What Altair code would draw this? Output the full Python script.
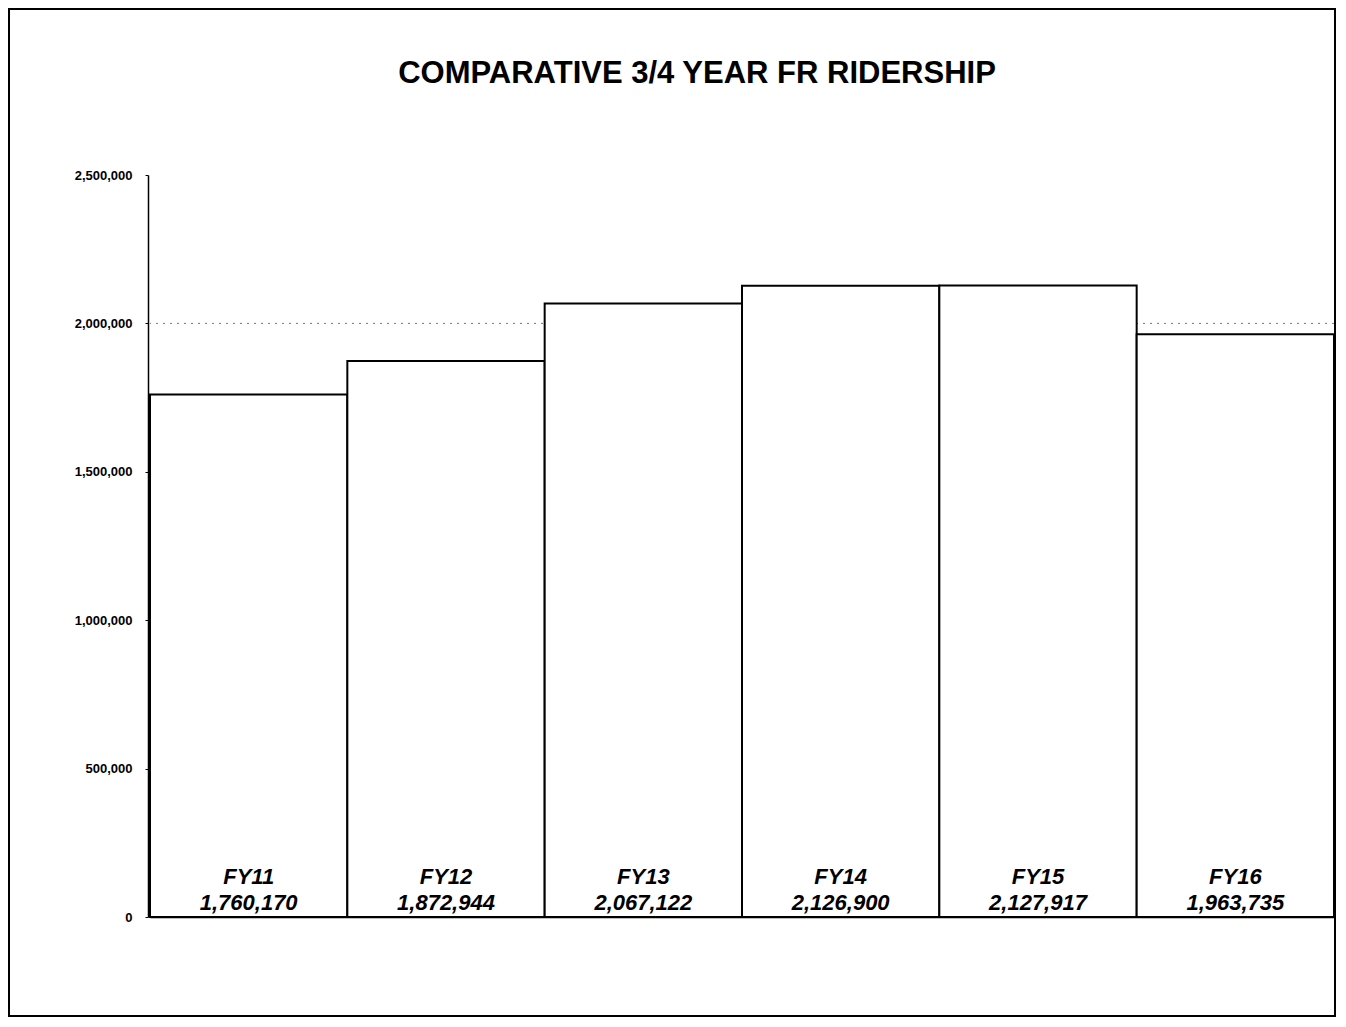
import altair as alt
import pandas as pd

years = ["FY11", "FY12", "FY13", "FY14", "FY15", "FY16"]
riders = [1760170, 1872944, 2067122, 2126900, 2127917, 1963735]
y_ticks = [0, 500000, 1000000, 1500000, 2000000, 2500000]
grid_values = [2000000]
title_text = "COMPARATIVE 3/4 YEAR FR RIDERSHIP"

df = pd.DataFrame({"year": years, "riders": riders})
df["label"] = [f"{v:,}" for v in riders]
grid_df = pd.DataFrame({"g": grid_values})
title_df = pd.DataFrame({"t": [title_text]})

W, H = 1184, 742
FONT = "Liberation Sans"

x_enc = alt.X("year:N", sort=years,
              scale=alt.Scale(paddingInner=0, paddingOuter=0),
              axis=alt.Axis(title=None, labels=False, ticks=False, grid=False,
                            domain=True, domainColor="black", domainWidth=1.5))
y_scale = alt.Scale(domain=[0, 2500000], nice=False)
y_axis = alt.Axis(title=None, values=y_ticks, format=",d", grid=False,
                  domainColor="black", domainWidth=1.5, tickColor="black",
                  tickSize=3, labelPadding=13, offset=2,
                  labelFont=FONT, labelFontSize=13, labelFontWeight="bold",
                  labelColor="black")

grid = alt.Chart(grid_df).mark_rule(color="#777", strokeWidth=1, strokeDash=[2, 5]).encode(
    y=alt.Y("g:Q", scale=y_scale, axis=y_axis),
)

bars = alt.Chart(df).mark_bar(fill="white", stroke="black", strokeWidth=2).encode(
    x=x_enc,
    y=alt.Y("riders:Q", scale=y_scale, axis=y_axis),
)

fy_text = alt.Chart(df).mark_text(font=FONT, fontSize=22, fontWeight="bold",
                                  fontStyle="italic", baseline="middle", dy=-40,
                                  color="black").encode(
    x=alt.X("year:N", sort=years), y=alt.datum(0), text="year:N")

val_text = alt.Chart(df).mark_text(font=FONT, fontSize=22, fontWeight="bold",
                                   fontStyle="italic", baseline="middle", dy=-14,
                                   color="black").encode(
    x=alt.X("year:N", sort=years), y=alt.datum(0), text="label:N")

title = alt.Chart(title_df).mark_text(font=FONT, fontSize=31, fontWeight="bold",
                                      baseline="middle", align="center",
                                      color="black").encode(
    x=alt.value(547), y=alt.value(-101), text="t:N")

frame = alt.Chart(title_df).mark_rect(fill=None, stroke="black", strokeWidth=2, clip=False).encode(
    x=alt.value(-141), x2=alt.value(1185), y=alt.value(-166), y2=alt.value(841))

chart = alt.layer(grid, bars, fy_text, val_text, title, frame).properties(
    width=W, height=H,
    background="white",
    autosize=alt.AutoSizeParams(type="none"),
    padding={"left": 142, "top": 167, "right": 2, "bottom": 100},
).configure_view(strokeWidth=0, stroke="transparent").configure_axis(grid=False)

chart.save("out.html", embed_options={"renderer": "svg", "actions": False})
